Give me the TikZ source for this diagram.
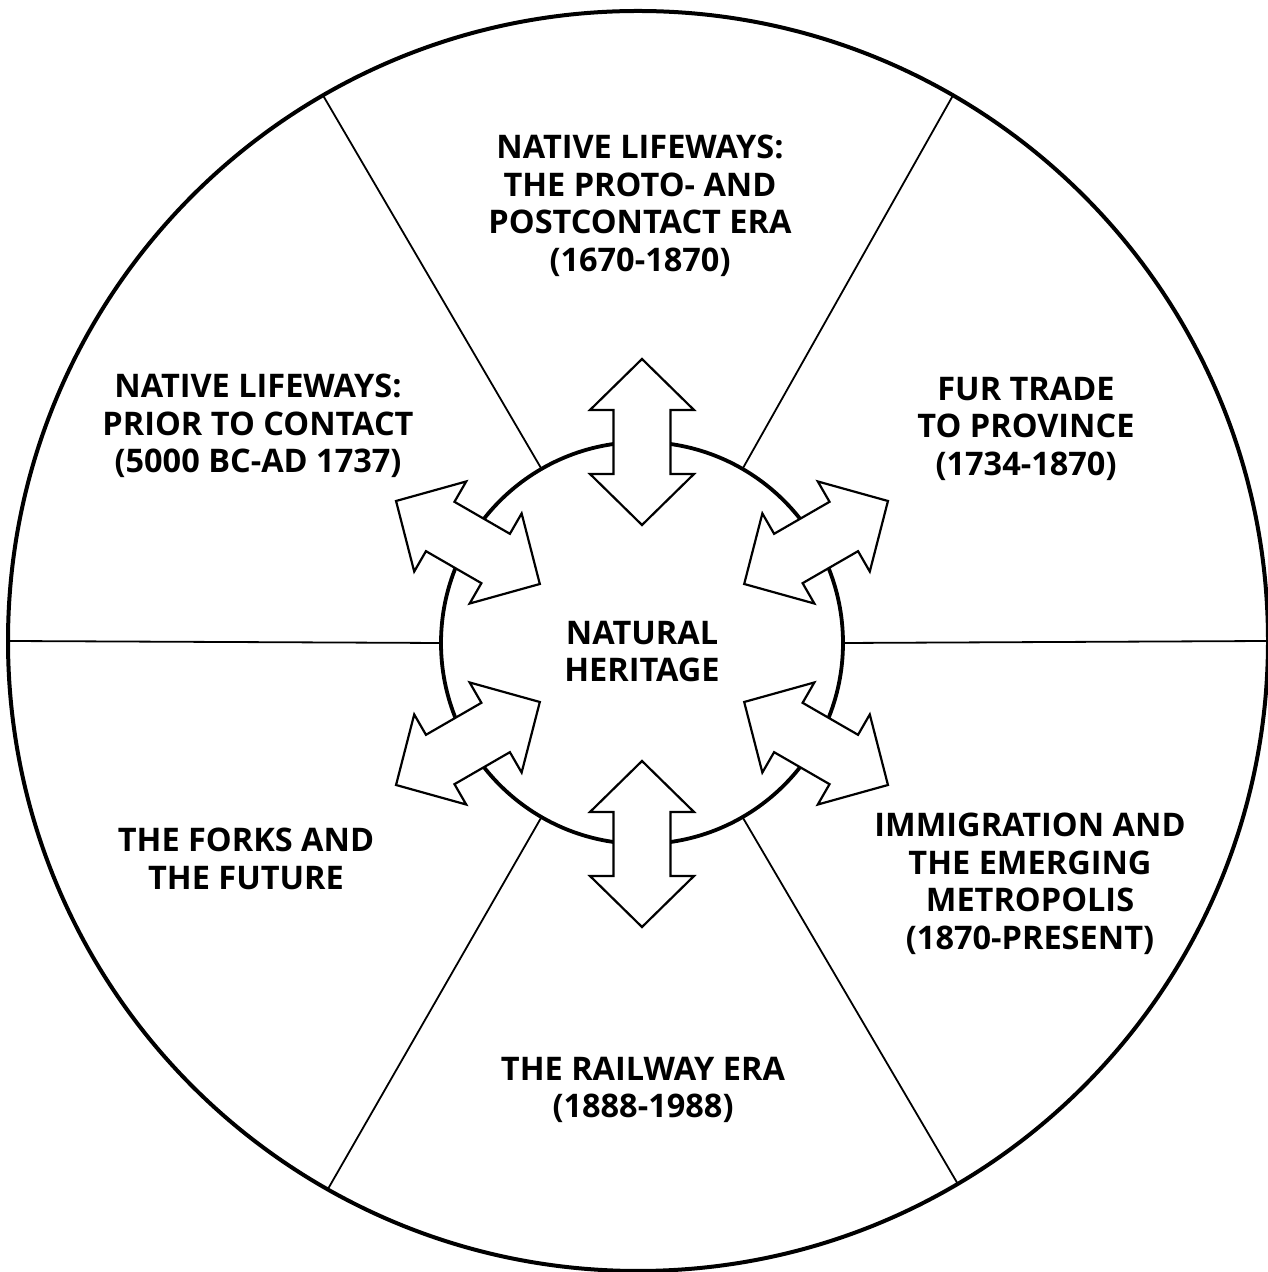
\documentclass[tikz,border=0pt]{standalone}
\usepackage{fontspec}
\setmainfont{Open Sans}
\begin{document}
\begin{tikzpicture}[x=1pt,y=1pt,
  outerring/.style={line width=4pt},
  innerring/.style={line width=3.8pt},
  spoke/.style={line width=1.8pt},
  blockarrow/.style={draw, fill=white, line width=2.2pt, line join=miter},
  eratext/.style={align=center, inner sep=0pt, anchor=north,
    font=\bfseries\fontsize{32.5}{37.5}\selectfont},
  dblarrow/.pic={\path[blockarrow] (83,0) -- (32,52) -- (32,28.5) -- (-32,28.5) -- (-32,52)
     -- (-83,0) -- (-32,-52) -- (-32,-28.5) -- (32,-28.5) -- (32,-52) -- cycle;}
]
\useasboundingbox (0,0) rectangle (1268,1272);
\coordinate (O) at (638,631);
\coordinate (I) at (642,629);
\draw[outerring] (O) circle[radius=630];
\draw[innerring] (I) circle[radius=201];
\foreach \a/\b in {0/0,60/60,120/120,180/180,240/240.5,300/300.5} {
  \coordinate (in\a) at ([shift={(\a:201)}]I);
  \coordinate (out\a) at ([shift={(\b:630)}]O);
  \draw[spoke] (in\a) -- (out\a);
}
\foreach \a in {30,90,...,330} {
  \coordinate (ar\a) at ([shift={(\a:201)}]I);
  \pic[rotate=\a] at (ar\a) {dblarrow};
}
\node[eratext] (top) at (640,1137) {NATIVE LIFEWAYS:\\THE PROTO- AND\\POSTCONTACT ERA\\(1670-1870)};
\node[eratext] (ul) at (258,898) {NATIVE LIFEWAYS:\\PRIOR TO CONTACT\\(5000 BC-AD 1737)};
\node[eratext] (ur) at (1026,895) {FUR TRADE\\TO PROVINCE\\(1734-1870)};
\node[eratext] (mid) at (642,651) {NATURAL\\HERITAGE};
\node[eratext] (ll) at (246,444) {THE FORKS AND\\THE FUTURE};
\node[eratext] (lr) at (1030,459) {IMMIGRATION AND\\THE EMERGING\\METROPOLIS\\(1870-PRESENT)};
\node[eratext] (bot) at (643,215) {THE RAILWAY ERA\\(1888-1988)};
\end{tikzpicture}
\end{document}
